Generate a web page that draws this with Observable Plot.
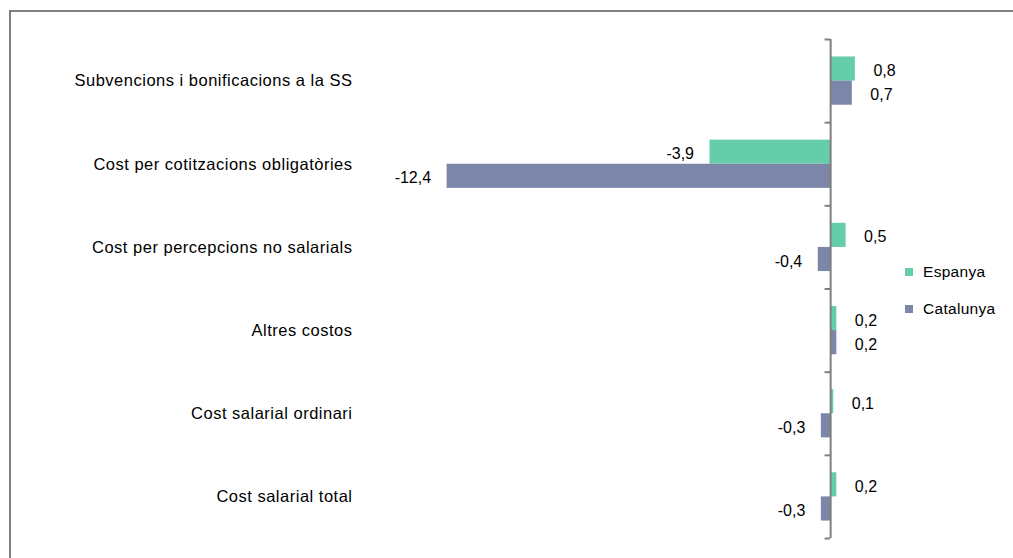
<!DOCTYPE html>
<html><head><meta charset="utf-8">
<script src="https://cdn.jsdelivr.net/npm/d3@7"></script>
<script src="https://cdn.jsdelivr.net/npm/@observablehq/plot@0.6"></script>
<style>
html,body{margin:0;padding:0;background:#fff;overflow:hidden;}
#wrap{position:relative;width:1013px;height:558px;overflow:hidden;}
#border{position:absolute;left:9px;top:10px;width:1020px;height:570px;border:2px solid #808080;box-sizing:border-box;}
#chart{position:absolute;left:0;top:0;}
#legend{position:absolute;left:905px;top:261px;font-family:"Liberation Sans",Arial,sans-serif;font-size:15.5px;color:#000;letter-spacing:0.3px;}
.item{display:flex;align-items:center;height:21px;margin-bottom:16px;}
.sw{width:8px;height:8px;margin-right:10px;}
.catlab text{letter-spacing:0.5px;}
</style></head><body>
<div id="wrap"><div id="border"></div><div id="chart"></div><div id="legend"></div></div>
<script>
const categories = [
  "Subvencions i bonificacions a la SS",
  "Cost per cotitzacions obligatòries",
  "Cost per percepcions no salarials",
  "Altres costos",
  "Cost salarial ordinari",
  "Cost salarial total"
];
const series = ["Espanya", "Catalunya"];
const espanya = [0.8, -3.9, 0.5, 0.2, 0.1, 0.2];
const catalunya = [0.7, -12.4, -0.4, 0.2, -0.3, -0.3];
const colors = ["#66cdaa", "#7b86a8"];

const half = 0.29;
const rows = [];
categories.forEach((c, i) => {
  rows.push({cat: c, i, series: "Espanya", value: espanya[i], y1: i - half, y2: i});
  rows.push({cat: c, i, series: "Catalunya", value: catalunya[i], y1: i, y2: i + half});
});
const fmt = v => v.toFixed(1).replace(".", ",");
const boundaries = d3.range(categories.length + 1).map(k => k - 0.5);
const xmin = -15.2, xmax = 2;

const chart = Plot.plot({
  width: 1013, height: 558,
  marginTop: 39, marginBottom: 20, marginLeft: 360, marginRight: 121,
  x: {domain: [xmin, xmax], axis: null},
  y: {domain: [-0.5, categories.length - 0.5], reverse: true, axis: null},
  color: {domain: series, range: colors},
  style: {fontFamily: "'Liberation Sans', Arial, sans-serif", background: "transparent"},
  marks: [
    Plot.rect(rows, {x1: 0, x2: "value", y1: "y1", y2: "y2", fill: "series"}),
    Plot.ruleX([0], {y1: -0.5, y2: categories.length - 0.5, stroke: "#7f7f7f", strokeWidth: 2}),
    Plot.ruleY(boundaries, {y: d => d, x1: 0, x2: -0.18, stroke: "#7f7f7f", strokeWidth: 2}),
    Plot.text(rows.filter(d => d.value >= 0), {x: "value", y: d => (d.y1 + d.y2) / 2, text: d => fmt(d.value), textAnchor: "start", dx: 18, dy: 2, fontSize: 16, fill: "#000"}),
    Plot.text(rows.filter(d => d.value < 0), {x: "value", y: d => (d.y1 + d.y2) / 2, text: d => fmt(d.value), textAnchor: "end", dx: -16, dy: 2, fontSize: 16, fill: "#000"}),
    Plot.text(categories, {x: xmin, y: (d, i) => i, text: d => d, textAnchor: "end", dx: -8, fontSize: 16.5, fill: "#000", className: "catlab"})
  ]
});
document.getElementById("chart").appendChild(chart);

const legend = document.getElementById("legend");
series.forEach((s, k) => {
  const it = document.createElement("div");
  it.className = "item";
  const sw = document.createElement("div");
  sw.className = "sw";
  sw.style.background = colors[k];
  const t = document.createElement("span");
  t.textContent = s;
  it.appendChild(sw); it.appendChild(t);
  legend.appendChild(it);
});
</script>
</body></html>
